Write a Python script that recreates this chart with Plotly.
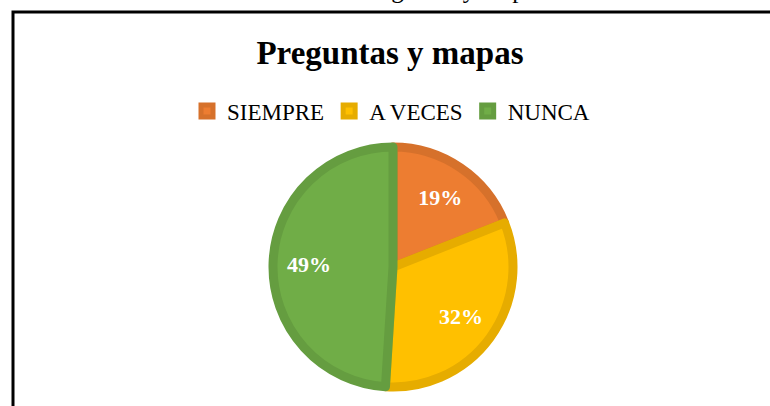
import plotly.graph_objects as go

# Data
categories = ["SIEMPRE", "A VECES", "NUNCA"]
values = [19, 32, 49]
fill_colors = ["#ED7D31", "#FFC000", "#70AD47"]
border_colors = ["#D6712B", "#E6AC00", "#659D40"]

title_text = "Preguntas y mapas"
caption_text = "Preguntas y mapas"

W, H = 770, 406
SERIF = "Liberation Serif, Times New Roman, serif"


def px_x(px):
    # pixel from the left -> paper fraction (margins are zero)
    return px / W


def px_y(py):
    # pixel from the top -> paper fraction
    return 1 - py / H


# pie geometry (pixels)
cx, cy, r = 393, 267, 120
pie_domain = {
    "x": [px_x(cx - r), px_x(cx + r)],
    "y": [px_y(cy + r), px_y(cy - r)],
}

fig = go.Figure()

# filled slices with darker same-hue borders
fig.add_trace(
    go.Pie(
        labels=categories,
        values=values,
        sort=False,
        direction="clockwise",
        rotation=0,
        marker={"colors": fill_colors, "line": {"color": border_colors, "width": 9}},
        textinfo="none",
        domain=pie_domain,
        hoverinfo="label+percent",
    )
)

# transparent ring on top, only to push the percent labels outwards
fig.add_trace(
    go.Pie(
        labels=categories,
        values=values,
        sort=False,
        direction="clockwise",
        rotation=0,
        hole=0.4,
        marker={"colors": ["rgba(0,0,0,0)"] * len(values), "line": {"width": 0}},
        texttemplate="%{percent:.0%}",
        textposition="inside",
        insidetextorientation="horizontal",
        textfont={"family": SERIF, "size": 22, "color": "#FFFFFF", "weight": "bold"},
        domain=pie_domain,
        showlegend=False,
        hoverinfo="skip",
    )
)

fig.update_layout(
    width=W,
    height=H,
    margin={"l": 0, "r": 0, "t": 0, "b": 0},
    paper_bgcolor="#FFFFFF",
    plot_bgcolor="#FFFFFF",
    title={
        "text": f"<b>{title_text}</b>",
        "x": px_x(390),
        "xanchor": "center",
        "y": px_y(52),
        "yanchor": "middle",
        "font": {"family": SERIF, "size": 33, "color": "#000000"},
    },
    legend={
        "orientation": "h",
        "x": px_x(187),
        "xanchor": "left",
        "y": px_y(111),
        "yanchor": "middle",
        "font": {"family": SERIF, "size": 23, "color": "#000000"},
        "traceorder": "normal",
    },
    shapes=[
        # outer chart frame, running off the right and bottom edges
        {
            "type": "rect",
            "xref": "paper",
            "yref": "paper",
            "x0": px_x(13),
            "x1": px_x(W + 40),
            "y0": px_y(H + 40),
            "y1": px_y(12),
            "line": {"color": "#000000", "width": 3},
        }
    ],
    annotations=[
        # caption above the frame, only its descenders reach into view
        {
            "text": caption_text,
            "xref": "paper",
            "yref": "paper",
            "x": px_x(356),
            "xanchor": "left",
            "y": px_y(4.5),
            "yanchor": "bottom",
            "showarrow": False,
            "font": {"family": SERIF, "size": 25, "color": "#000000"},
        }
    ],
)

# drop the default page margin so the figure sits at the window's corner
fig.write_html(
    "out.html",
    config={"displayModeBar": False},
    post_script="document.body.style.margin='0';document.body.style.overflow='hidden';",
)
